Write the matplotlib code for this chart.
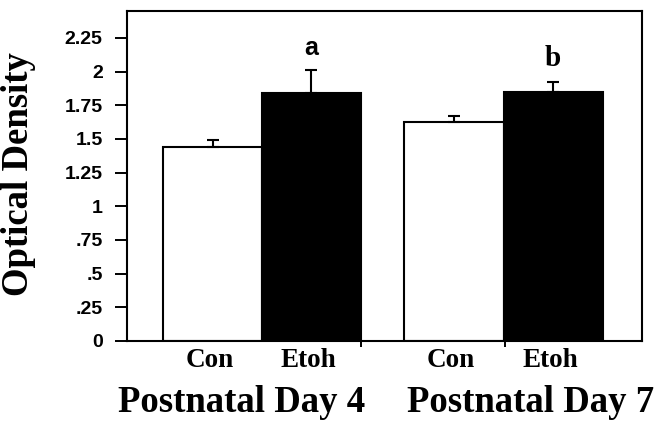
import matplotlib.pyplot as plt

# Значення
groups = ["Con", "Etoh", "Con", "Etoh"]
days = ["Postnatal Day 4", "Postnatal Day 7"]
means = [1.443, 1.843, 1.626, 1.846]
errors = [0.05, 0.17, 0.045, 0.08]
letters = ["", "a", "", "b"]
letter_y = [0, 2.175, 0, 2.094]
yticks = [0, 0.25, 0.5, 0.75, 1, 1.25, 1.5, 1.75, 2, 2.25]
ytick_labels = ["0", ".25", ".5", ".75", "1", "1.25", "1.5", "1.75", "2", "2.25"]

positions = [0.864, 1.859, 3.303, 4.303]
colors = ["white", "black", "white", "black"]

fig = plt.figure(figsize=(6.68, 4.24), dpi=100)
ax = fig.add_axes([0.1901, 0.1958, 0.771, 0.7783])

ax.bar(positions, means, width=1.0, color=colors, edgecolor="black", linewidth=1.5)
ax.errorbar(positions, means, yerr=[[0] * 4, errors], fmt="none",
            ecolor="black", elinewidth=1.5, capsize=4, capthick=1.5)

for x, lab, ly in zip(positions, letters, letter_y):
    if not lab:
        continue
    if lab == "a":
        ax.text(x, ly, lab, ha="center", va="center", fontsize=18,
                fontweight="bold", family="Liberation Sans")
    else:
        ax.text(x, ly, lab, ha="center", va="center", fontsize=21,
                fontweight="bold", family="Liberation Serif")

ax.set_xlim(0, 5.202)
ax.set_ylim(0, 2.45)

ax.set_yticks(yticks)
ax.set_yticklabels(ytick_labels, fontsize=14, fontweight="bold",
                   family="Liberation Sans")
ax.tick_params(axis="y", length=8.5, width=1.4, pad=9)

# маленькі позначки внизу
ax.set_xticks([2.364, 3.818])
ax.set_xticklabels([])
ax.tick_params(axis="x", length=4, width=1.4)

for s in ax.spines.values():
    s.set_linewidth(1.5)

trans = ax.get_xaxis_transform()
for x, g in zip(positions, groups):
    ax.text(x - 0.03, -0.058, g, transform=trans, ha="center", va="center",
            fontsize=19.5, fontweight="bold", family="Liberation Serif")

for x, d in zip([1.16, 4.08], days):
    ax.text(x, -0.185, d, transform=trans, ha="center", va="center",
            fontsize=26.5, fontweight="bold", family="Liberation Serif")

fig.text(0.028, (424 - 174) / 424, "Optical Density", rotation=90,
         ha="center", va="center", fontsize=26.5, fontweight="bold",
         family="Liberation Serif")

fig.savefig("out.png", dpi=100)
